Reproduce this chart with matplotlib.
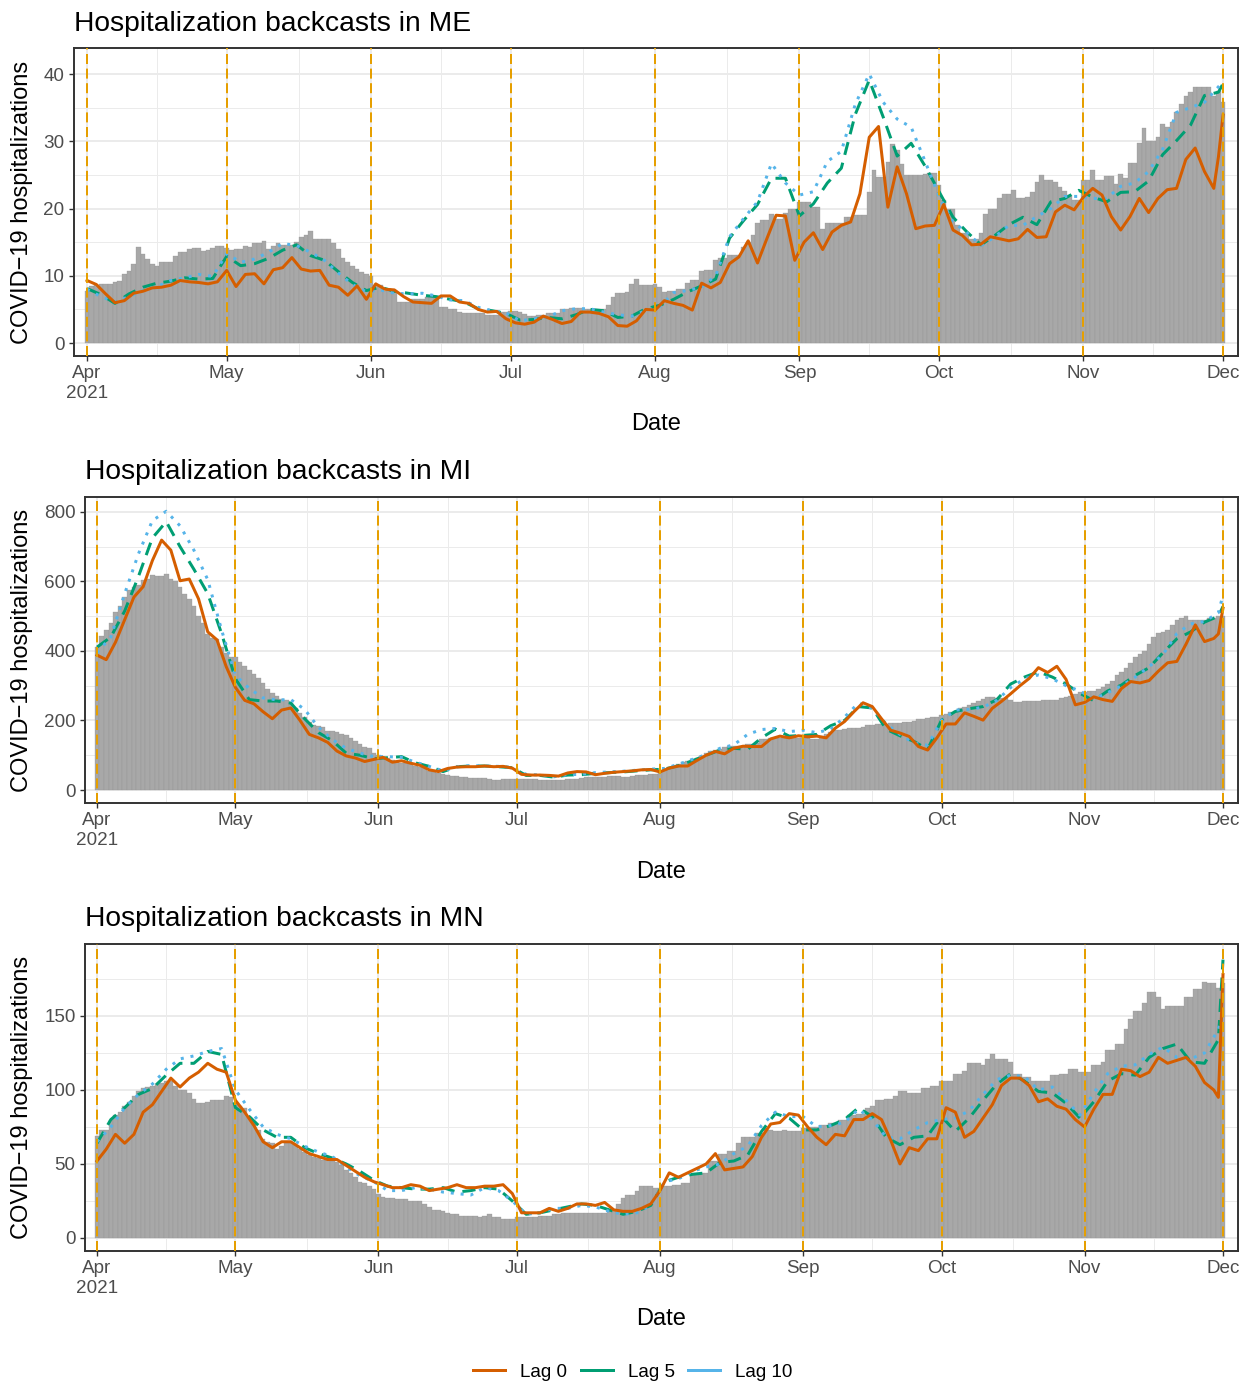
import matplotlib
matplotlib.use("Agg")
import matplotlib.pyplot as plt
import matplotlib.dates as mdates
from matplotlib.lines import Line2D
import pandas as pd

plt.rcParams['font.family'] = ['Liberation Sans', 'DejaVu Sans']

# daily dates, Apr 1 .. Dec 1 2021
dates = pd.date_range("2021-04-01", "2021-12-01", freq="D")
# lag 0 read every 2 days, lag 5 / lag 10 every 3 days (day offsets from Apr 1)
days_lag0 = list(range(0, 243, 2)) + [243, 244]
days_lag5 = list(range(0, 245, 3)) + [244]
days_lag10 = days_lag5

states = ["ME", "MI", "MN"]

# ---- ME ----
me_obs = [7.8, 8.5, 8.6, 8.8, 8.8, 8.8, 9.0, 9.2, 10.2, 10.7,
          11.8, 14.3, 13.3, 12.5, 11.8, 11.5, 12.1, 12.0, 12.0, 12.9,
          13.5, 13.5, 14.0, 14.2, 14.2, 13.7, 13.9, 14.1, 14.5, 14.5,
          14.2, 13.8, 14.0, 14.0, 14.5, 14.3, 14.8, 14.9, 15.1, 14.0,
          14.5, 14.8, 14.6, 14.6, 14.6, 15.0, 15.8, 16.0, 16.7, 15.5,
          15.5, 15.5, 15.5, 14.8, 14.0, 12.7, 12.0, 11.5, 11.0, 10.5,
          10.2, 10.0, 8.6, 8.6, 7.8, 7.8, 7.8, 6.1, 6.1, 6.1,
          6.6, 6.6, 6.6, 6.9, 6.9, 6.9, 5.4, 5.4, 5.0, 5.0,
          4.6, 4.4, 4.4, 4.5, 4.5, 4.5, 4.2, 4.2, 4.2, 4.6,
          4.6, 4.8, 4.8, 4.6, 4.3, 4.0, 4.0, 4.1, 4.1, 4.5,
          4.5, 4.5, 5.1, 5.1, 5.2, 5.2, 5.2, 5.1, 5.1, 5.0,
          5.0, 5.0, 5.6, 6.8, 7.5, 7.5, 7.6, 8.8, 9.5, 8.6,
          8.6, 8.6, 8.8, 8.4, 7.6, 7.8, 7.8, 8.1, 8.1, 8.9,
          9.4, 9.4, 10.7, 10.9, 10.9, 12.4, 12.6, 12.6, 13.1, 13.1,
          13.1, 14.3, 15.0, 16.0, 17.9, 18.3, 18.3, 19.2, 18.5, 18.5,
          19.3, 20.0, 20.0, 20.9, 20.9, 20.9, 20.2, 20.2, 17.0, 17.8,
          17.8, 17.8, 17.8, 18.8, 18.8, 19.0, 19.0, 19.0, 22.5, 25.7,
          24.7, 24.7, 26.9, 29.6, 28.7, 26.6, 25.0, 25.0, 25.0, 25.0,
          25.1, 25.3, 25.3, 23.5, 21.2, 19.9, 19.9, 17.5, 16.4, 16.4,
          15.5, 15.5, 16.3, 19.2, 19.9, 19.9, 21.5, 22.1, 22.1, 22.7,
          21.5, 21.5, 21.7, 22.5, 24.0, 25.0, 24.3, 24.3, 24.0, 23.2,
          22.6, 22.0, 21.3, 21.3, 24.2, 24.2, 25.7, 24.3, 24.3, 24.8,
          24.8, 23.7, 25.1, 24.5, 26.7, 26.7, 29.7, 31.9, 30.1, 30.1,
          30.7, 32.6, 32.1, 32.9, 34.4, 35.6, 36.8, 37.3, 38.1, 38.1,
          38.1, 38.1, 36.7, 37.5, 35.8]
me_lag0 = [9.3, 8.7, 7.3, 6.0, 6.3, 7.4, 7.7, 8.2, 8.3, 8.6,
           9.3, 9.1, 9.0, 8.8, 9.1, 10.8, 8.4, 10.2, 10.3, 8.8,
           10.9, 11.2, 12.7, 11.0, 10.7, 10.8, 8.6, 8.3, 7.1, 8.5,
           6.5, 8.8, 8.0, 7.9, 6.9, 6.1, 6.0, 5.9, 7.0, 7.0,
           6.1, 5.9, 5.0, 4.6, 4.7, 3.6, 3.0, 2.8, 3.1, 4.0,
           3.5, 2.9, 3.2, 4.6, 4.6, 4.4, 3.9, 2.6, 2.5, 3.3,
           5.0, 4.9, 6.3, 5.9, 5.6, 4.9, 8.9, 8.2, 9.0, 11.8,
           12.8, 15.2, 11.9, 15.5, 19.0, 18.9, 12.3, 15.0, 16.4, 13.9,
           16.5, 17.5, 18.0, 22.2, 30.6, 32.2, 20.2, 26.2, 22.2, 17.0,
           17.4, 17.5, 20.6, 16.8, 16.0, 14.6, 14.7, 15.8, 15.5, 15.2,
           15.5, 16.9, 15.7, 15.8, 19.5, 20.5, 19.8, 21.7, 23.0, 22.0,
           18.8, 16.8, 18.8, 21.5, 19.4, 21.5, 22.8, 23.0, 27.3, 29.0,
           25.5, 23.0, 27.7, 33.9]
me_lag5 = [8.1, 7.2, 5.9, 7.3, 8.3, 8.9, 9.2, 9.7, 9.5, 9.6,
           12.9, 11.5, 11.8, 12.6, 13.8, 14.6, 13.0, 12.3, 10.6, 9.0,
           7.8, 8.3, 7.7, 7.4, 7.1, 6.9, 6.5, 6.1, 5.1, 4.8,
           4.4, 3.4, 3.5, 3.8, 3.6, 4.2, 5.0, 4.8, 3.8, 4.0,
           5.1, 5.6, 6.5, 7.6, 8.5, 9.5, 15.6, 18.2, 20.6, 24.5,
           24.5, 18.9, 20.7, 23.8, 26.0, 34.0, 39.1, 33.6, 27.8, 29.7,
           26.3, 22.5, 18.7, 16.5, 14.6, 16.0, 17.6, 18.7, 17.6, 21.0,
           21.5, 22.7, 21.7, 21.0, 22.4, 22.5, 24.1, 28.0, 30.1, 32.4,
           36.8, 37.3, 38.6]
me_lag10 = [8.0, 6.9, 6.1, 6.9, 7.8, 8.4, 9.3, 9.7, 10.2, 9.9,
            13.3, 12.0, 12.5, 13.5, 14.8, 14.5, 13.5, 12.3, 10.4, 8.7,
            7.6, 7.9, 7.4, 7.3, 7.4, 7.0, 6.4, 6.3, 5.3, 4.8,
            4.5, 3.3, 3.6, 3.9, 4.8, 5.1, 5.1, 4.6, 4.2, 4.0,
            4.8, 5.4, 7.5, 7.8, 8.3, 10.0, 15.8, 18.5, 21.0, 26.7,
            23.8, 22.0, 22.5, 27.0, 28.5, 35.5, 40.0, 35.8, 33.3, 32.1,
            27.0, 21.8, 18.0, 16.4, 14.5, 15.8, 17.5, 17.5, 18.8, 20.0,
            21.8, 21.8, 21.5, 21.5, 23.3, 23.8, 25.5, 28.8, 34.3, 35.0,
            35.8, 38.1, 39.0]

# ---- MI ----
mi_obs = [412, 443, 460, 480, 513, 528, 556, 575, 585, 590,
          604, 606, 618, 616, 616, 622, 606, 600, 585, 564,
          550, 528, 501, 480, 449, 436, 434, 412, 393, 384,
          382, 369, 357, 345, 334, 321, 309, 290, 278, 270,
          261, 259, 249, 235, 221, 209, 197, 187, 184, 180,
          171, 171, 168, 161, 158, 149, 142, 132, 125, 120,
          106, 101, 96, 91, 86, 84, 79, 77, 75, 69,
          67, 65, 56, 53, 50, 46, 43, 40, 40, 36,
          36, 34, 34, 34, 34, 33, 29, 29, 32, 32,
          32, 32, 32, 32, 31, 31, 29, 29, 29, 29,
          29, 30, 31, 33, 33, 34, 36, 36, 37, 38,
          38, 39, 40, 40, 38, 38, 39, 42, 42, 44,
          45, 47, 53, 58, 67, 70, 75, 82, 84, 88,
          92, 98, 106, 113, 115, 117, 125, 127, 127, 127,
          128, 132, 132, 134, 146, 146, 149, 149, 149, 149,
          149, 149, 149, 149, 150, 148, 148, 155, 160, 166,
          172, 173, 175, 177, 177, 179, 181, 187, 187, 190,
          190, 190, 192, 192, 192, 195, 197, 199, 203, 203,
          207, 209, 210, 216, 218, 225, 228, 235, 238, 245,
          250, 257, 262, 269, 269, 266, 264, 264, 260, 254,
          254, 255, 257, 257, 257, 259, 259, 259, 260, 265,
          269, 270, 275, 283, 283, 284, 286, 290, 295, 305,
          315, 331, 340, 350, 365, 384, 390, 400, 420, 440,
          453, 456, 460, 475, 489, 495, 501, 489, 489, 489,
          490, 494, 494, 500, 501]
mi_lag0 = [388, 375, 425, 490, 555, 585, 660, 719, 690, 602,
           607, 550, 455, 432, 355, 295, 258, 248, 225, 205,
           230, 236, 200, 160, 150, 137, 112, 98, 92, 82,
           88, 94, 80, 84, 77, 71, 58, 53, 62, 66,
           67, 67, 69, 67, 68, 63, 45, 43, 43, 42,
           40, 49, 53, 52, 44, 48, 51, 53, 55, 58,
           59, 52, 63, 69, 69, 85, 100, 111, 104, 120,
           126, 125, 125, 147, 155, 150, 156, 153, 155, 150,
           178, 197, 225, 251, 240, 205, 172, 164, 154, 125,
           115, 150, 190, 190, 222, 212, 201, 235, 255, 277,
           300, 321, 352, 338, 356, 318, 245, 252, 268, 260,
           255, 292, 312, 308, 315, 342, 366, 370, 420, 475,
           427, 436, 449, 523]
mi_lag5 = [411, 440, 515, 615, 725, 772, 700, 635, 565, 450,
           320, 260, 256, 256, 250, 205, 165, 142, 106, 100,
           90, 93, 96, 78, 68, 53, 67, 69, 69, 67,
           64, 42, 42, 37, 43, 44, 48, 50, 52, 55,
           58, 60, 70, 84, 100, 115, 120, 117, 150, 175,
           155, 157, 160, 185, 200, 240, 236, 175, 156, 140,
           117, 201, 226, 234, 240, 260, 305, 325, 340, 325,
           305, 278, 257, 285, 302, 330, 352, 395, 435, 455,
           483, 500, 528]
mi_lag10 = [395, 440, 565, 680, 775, 802, 760, 690, 605, 460,
            330, 292, 265, 259, 260, 232, 180, 145, 120, 106,
            96, 96, 94, 80, 68, 55, 67, 70, 69, 68,
            65, 45, 43, 38, 44, 45, 50, 52, 54, 57,
            60, 62, 74, 88, 102, 120, 130, 160, 174, 177,
            168, 172, 165, 175, 210, 250, 235, 190, 160, 135,
            129, 200, 230, 232, 238, 258, 295, 320, 331, 320,
            300, 285, 262, 280, 300, 325, 355, 390, 450, 478,
            485, 510, 561]

# ---- MN ----
mn_obs = [69, 73, 73, 80, 83, 85, 89, 92, 96, 99,
          101, 102, 103, 104, 105, 106, 106, 103, 100, 100,
          98, 94, 91, 91, 92, 93, 93, 93, 96, 95,
          91, 89, 88, 82, 79, 73, 67, 65, 64, 60,
          62, 64, 64, 63, 60, 58, 56, 55, 54, 53,
          53, 52, 51, 49, 46, 44, 41, 38, 37, 35,
          33, 30, 28, 27, 27, 26, 26, 26, 25, 25,
          25, 23, 21, 19, 19, 18, 17, 16, 16, 15,
          15, 15, 15, 14, 15, 16, 14, 14, 13, 13,
          13, 14, 14, 14, 14, 14, 15, 15, 15, 16,
          16, 17, 17, 17, 17, 17, 17, 17, 17, 17,
          17, 19, 19, 23, 27, 29, 29, 32, 35, 35,
          35, 34, 34, 35, 35, 36, 36, 37, 37, 43,
          43, 44, 44, 52, 52, 57, 57, 59, 59, 64,
          68, 68, 68, 71, 71, 74, 73, 72, 72, 73,
          72, 72, 72, 74, 74, 75, 75, 76, 76, 78,
          78, 80, 80, 83, 83, 84, 84, 88, 89, 93,
          93, 94, 94, 96, 99, 99, 98, 98, 98, 101,
          101, 103, 103, 106, 106, 106, 111, 111, 113, 118,
          118, 118, 117, 121, 124, 121, 121, 121, 119, 111,
          111, 109, 109, 106, 106, 106, 106, 110, 110, 111,
          111, 114, 114, 112, 112, 112, 117, 117, 119, 127,
          127, 131, 131, 141, 148, 153, 153, 159, 166, 166,
          163, 155, 157, 157, 157, 157, 163, 163, 168, 168,
          173, 172, 172, 169, 172]
mn_lag0 = [52, 60, 70, 64, 70, 85, 90, 99, 108, 102,
           108, 112, 118, 114, 112, 93, 85, 76, 65, 61,
           65, 65, 61, 57, 55, 53, 53, 49, 45, 41,
           38, 36, 34, 34, 36, 35, 32, 33, 34, 36,
           34, 34, 35, 35, 36, 30, 17, 17, 17, 20,
           18, 20, 23, 23, 22, 24, 19, 18, 18, 20,
           23, 32, 44, 41, 44, 47, 50, 57, 46, 47,
           48, 55, 68, 77, 78, 84, 83, 75, 68, 63,
           70, 69, 80, 80, 84, 80, 66, 50, 61, 59,
           67, 67, 88, 85, 68, 72, 81, 90, 103, 108,
           108, 103, 92, 94, 89, 87, 80, 75, 87, 97,
           97, 114, 113, 109, 112, 122, 118, 120, 122, 116,
           105, 100, 95, 178]
mn_lag5 = [64, 80, 88, 97, 101, 110, 118, 118, 126, 124,
           88, 82, 73, 68, 68, 61, 57, 54, 50, 45,
           39, 35, 34, 33, 33, 34, 31, 32, 34, 33,
           25, 16, 17, 19, 21, 23, 22, 19, 16, 18,
           22, 38, 41, 43, 44, 51, 52, 56, 72, 84,
           81, 73, 73, 76, 80, 88, 82, 68, 63, 68,
           69, 82, 72, 81, 93, 104, 111, 106, 99, 98,
           91, 81, 92, 106, 111, 110, 122, 128, 131, 119,
           118, 134, 188]
mn_lag10 = [65, 75, 88, 97, 104, 114, 121, 123, 126, 128,
            100, 87, 75, 70, 67, 62, 58, 55, 48, 42,
            38, 32, 32, 34, 33, 31, 30, 29, 34, 32,
            25, 16, 17, 20, 20, 22, 21, 18, 16, 17,
            22, 38, 40, 45, 48, 50, 57, 62, 76, 85,
            82, 82, 75, 76, 78, 87, 80, 68, 67, 73,
            78, 80, 81, 86, 97, 107, 110, 109, 100, 102,
            93, 83, 98, 111, 116, 117, 124, 129, 122, 121,
            125, 141, 153]

month_labels = ["Apr\n2021", "May", "Jun", "Jul", "Aug", "Sep", "Oct", "Nov", "Dec"]

panels = [
    (me_obs, me_lag0, me_lag5, me_lag10),
    (mi_obs, mi_lag0, mi_lag5, mi_lag10),
    (mn_obs, mn_lag0, mn_lag5, mn_lag10),
]

W, H = 1252, 1387
fig = plt.figure(figsize=(W / 100, H / 100), dpi=100)

# pixel boxes (left, top, right, bottom) of the three panels
boxes = [(74, 48, 1238, 356), (85, 497, 1238, 803), (85, 944, 1238, 1251)]
ylims = [(-1.93, 43.87), (-37.4, 843), (-8.8, 198.6)]
ystep = [10, 200, 50]
title_base = [31, 479, 926]
date_base = [430, 878, 1325]
pads = [(2.8, 3.2), (2.6, 3.25), (2.6, 3.25)]

col0, col5, col10 = "#D55E00", "#009E73", "#56B4E9"
vcol = "#E69F00"
dnum = mdates.date2num(dates)
month_starts = mdates.date2num(pd.date_range("2021-04-01", "2021-12-01", freq="MS"))
month_mid = [(a + b) / 2 for a, b in zip(month_starts[:-1], month_starts[1:])]

for i, (obs, l0, l5, l10) in enumerate(panels):
    l, t, r, b = boxes[i]
    ax = fig.add_axes([l / W, 1 - b / H, (r - l) / W, (b - t) / H])
    ax.bar(dnum, obs, width=1.0, color="#A8A8A8", edgecolor="#909090",
           linewidth=0.2, zorder=2)
    ax.plot(dnum[days_lag5], l5, color=col5, lw=2.16, dashes=(4.4, 2.7), zorder=3)
    ax.plot(dnum[days_lag10], l10, color=col10, lw=2.16, dashes=(1, 2.3), zorder=3)
    ax.plot(dnum[days_lag0], l0, color=col0, lw=2.16, zorder=4)
    for m in month_starts:
        ax.axvline(m, color=vcol, lw=1.44, dashes=(5, 2.3), zorder=5)

    ax.set_xlim(dnum[0] - pads[i][0], dnum[-1] + pads[i][1])
    ax.set_ylim(*ylims[i])
    s = ystep[i]
    yt = [k * s for k in range(0, int(ylims[i][1] // s) + 1)]
    ym = [v + s / 2 for v in yt if v + s / 2 < ylims[i][1]]
    ax.set_yticks(yt)
    ax.set_yticks(ym, minor=True)
    ax.set_xticks(month_starts)
    ax.set_xticklabels(month_labels)
    ax.set_xticks(month_mid, minor=True)

    ax.grid(True, which="major", color="#EBEBEB", lw=1.4, zorder=0)
    ax.grid(True, which="minor", color="#EBEBEB", lw=0.7, zorder=0)
    ax.set_axisbelow(True)
    ax.tick_params(which="major", length=3.8, width=1.0, color="#333333",
                   labelsize=13.6, labelcolor="#4D4D4D", pad=3)
    ax.tick_params(which="minor", length=0)
    for sp in ax.spines.values():
        sp.set_color("#333333")
        sp.set_linewidth(1.4)

    fig.text(l / W, 1 - title_base[i] / H, "Hospitalization backcasts in " + states[i],
             ha="left", va="baseline", fontsize=20.3)
    fig.text((l + r) / 2 / W, 1 - date_base[i] / H, "Date",
             ha="center", va="baseline", fontsize=17)
    fig.text(22 / W, 1 - (t + b) / 2 / H, "COVID\u221219 hospitalizations",
             rotation=90, ha="center", va="center", fontsize=17)

handles = [Line2D([], [], color=c, lw=2.16) for c in (col0, col5, col10)]
fig.legend(handles, ["Lag 0", "Lag 5", "Lag 10"], loc="center", ncol=3,
           bbox_to_anchor=(633 / W, 1 - 1372 / H), frameon=False, fontsize=13.6,
           handlelength=1.7, handletextpad=0.8, columnspacing=0.7)

fig.savefig("out.png", dpi=100)
